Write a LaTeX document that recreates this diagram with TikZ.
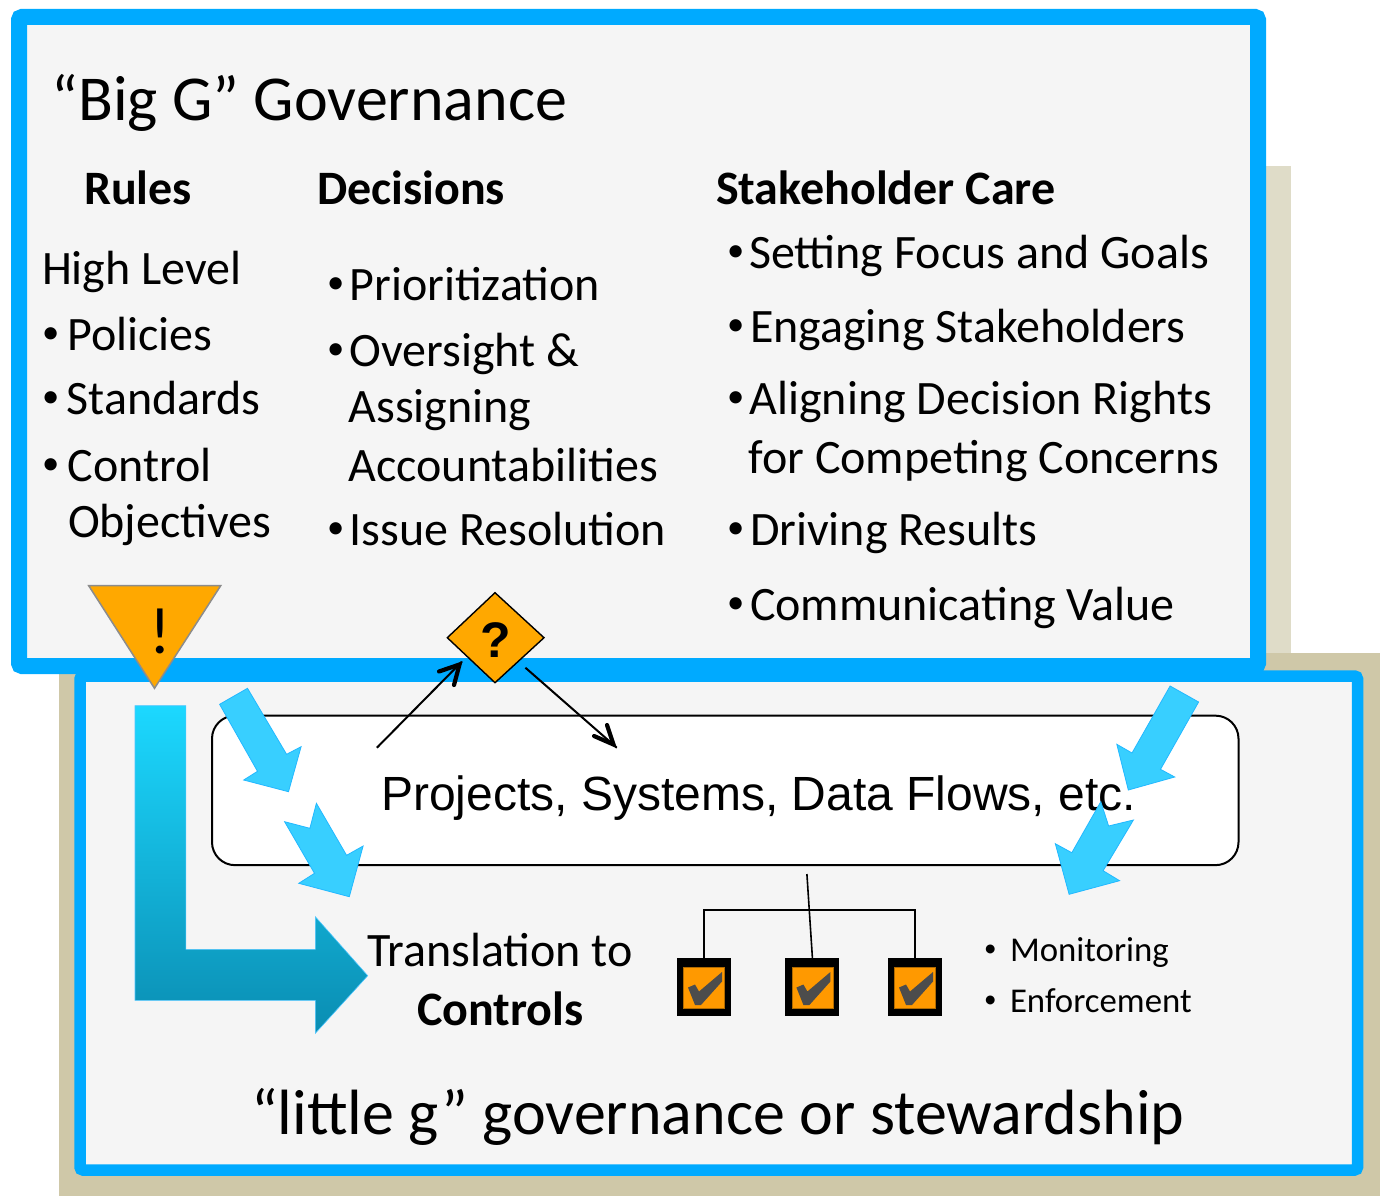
\documentclass[tikz,border=0pt]{standalone}
\usepackage{fontspec}
\setmainfont{Carlito}
\newfontfamily\arialf{Liberation Sans}
\usetikzlibrary{shapes.geometric}
\definecolor{boxblue}{HTML}{00AAFF}
\definecolor{paneln}{HTML}{F5F5F5}
\definecolor{tanlt}{HTML}{DFDCC8}
\definecolor{tandk}{HTML}{CFC8A8}
\definecolor{arrowblue}{HTML}{38CFFF}
\definecolor{arrowedge}{HTML}{22B8FF}
\definecolor{warn}{HTML}{FFA800}
\definecolor{chk}{HTML}{FF9900}
\definecolor{gradtop}{HTML}{1CD8FF}
\definecolor{gradbot}{HTML}{0A8DB2}
\tikzset{
  x=1pt,y=-1pt,
  panel/.style={draw=boxblue,fill=paneln,rounded corners=3pt},
  minib/.style={draw=arrowedge,line width=.8pt,fill=arrowblue,line join=miter},
  txt/.style={anchor=base west,inner sep=0pt,outer sep=0pt,yshift=-1pt,font=\fontsize{48}{52}\selectfont},
  head/.style={txt,font=\fontsize{48}{52}\selectfont\bfseries},
  big/.style={txt,font=\fontsize{64}{68}\selectfont},
  small/.style={txt,font=\fontsize{34.8}{38}\selectfont},
  flow/.style={draw=black,line width=2pt},
  tree/.style={draw=black,line width=1.6pt},
  outerchk/.style={draw=none,fill=black,minimum width=54pt,minimum height=58pt,inner sep=0pt},
}
\newcommand{\bul}{\raisebox{.14em}{\scalebox{.72}{\textbullet}}}
\newcommand{\chkmark}[2]{%
  \fill[chk,draw=chk!70!black,line width=.8pt] (#1-20.5,#2-20) rectangle (#1+20.5,#2+21);
  \fill[black!70] (#1-16,#2+0) -- (#1-9,#2-3) -- (#1-5,#2+4) -- (#1+18,#2-15.5) -- (#1+18,#2-6) -- (#1-3,#2+17.5) -- (#1-9,#2+17.5) -- cycle;}
\begin{document}
\begin{tikzpicture}
\path[use as bounding box,fill=white] (0,0) rectangle (1380,1196);
% shadows
\fill[tanlt] (1200,166) rectangle (1291,660);
\fill[tandk] (59,653) rectangle (1380,1196);
% panels
\draw[panel,line width=11.5pt] (80,676) rectangle (1357.5,1170);
\draw[panel,line width=16pt] (19,17) rectangle (1258,666);
% round box
\node[draw=black,line width=2pt,fill=white,rounded corners=23pt,minimum width=1026.5pt,minimum height=149.5pt,inner sep=0pt] (sys) at (725.25,790.4) {};
\node[txt,font=\fontsize{48}{52}\selectfont\arialf] (systxt) at (381,809) {Projects, Systems, Data Flows, etc.};
% top texts
\node[big] (title) at (51.5,120) {“Big G” Governance};
\node[head] (rules) at (84,203) {Rules};
\node[head] (decs) at (317,203) {Decisions};
\node[head] (care) at (716,203) {Stakeholder Care};
\node[txt] (hl) at (42,283) {High Level};
\node[txt] (b1) at (42,349) {\bul};
\node[txt] (t1) at (67.5,349) {Policies};
\node[txt] (b2) at (42,413) {\bul};
\node[txt] (t2) at (66.5,413) {Standards};
\node[txt] (b3) at (42,480) {\bul};
\node[txt] (t3) at (67.5,480) {Control};
\node[txt] (t3b) at (68,536) {Objectives};
\node[txt] (b4) at (327,299) {\bul};
\node[txt] (t4) at (349.5,299) {Prioritization};
\node[txt] (b5) at (327,365) {\bul};
\node[txt] (t5) at (349.5,365) {Oversight \&};
\node[txt] (t5b) at (348.5,421) {Assigning};
\node[txt] (t5c) at (348.5,480) {Accountabilities};
\node[txt] (b6) at (327,544) {\bul};
\node[txt] (t6) at (349.5,544) {Issue Resolution};
\node[txt] (b7) at (727,267) {\bul};
\node[txt] (t7) at (749,267) {Setting Focus and Goals};
\node[txt] (b8) at (727,341) {\bul};
\node[txt] (t8) at (750,341) {Engaging Stakeholders};
\node[txt] (b9) at (727,413) {\bul};
\node[txt] (t9) at (749.5,413) {Aligning Decision Rights};
\node[txt] (t9b) at (748.5,472) {for Competing Concerns};
\node[txt] (b10) at (727,544) {\bul};
\node[txt] (t10) at (750,544) {Driving Results};
\node[txt] (b11) at (727,619) {\bul};
\node[txt] (t11) at (750,619) {Communicating Value};
% triangle
\draw[fill=warn,draw=black!45,line width=1.5pt,line join=miter] (88.7,585.7) -- (220.7,585.7) -- (154.5,688.3) -- cycle;
\node[txt,anchor=base,font=\fontsize{66}{68}\selectfont] (bang) at (160,652) {!};
% diamond
\draw[fill=warn,draw=black,line width=1.4pt,line join=miter] (447.3,637.7) -- (495,592.7) -- (544,637.7) -- (495,682.7) -- cycle;
\node[txt,anchor=base,font=\fontsize{50}{52}\selectfont\bfseries\arialf] (qm) at (496,656) {?};
\coordinate (upA) at (376.9,747.7);
\coordinate (upB) at (461.8,661.7);
\coordinate (dnA) at (525.4,667.7);
\coordinate (dnB) at (616.8,747.7);
\draw[flow] (upA) -- (upB);
\draw[flow] (dnA) -- (dnB);
\draw[black,line width=4.2pt,line cap=round,line join=miter] (439,671.5) -- (459.5,664.5) -- (454,685);
\draw[black,line width=4.2pt,line cap=round,line join=miter] (594,736) -- (613.5,744.5) -- (607,725);
% L arrow
\shade[top color=gradtop,bottom color=gradbot] (135,705.7) -- (185.9,705.7) -- (185.9,949.3) -- (315.3,949.3) -- (315.3,916.7) -- (367.7,975.7) -- (315.3,1033.3) -- (315.3,1000.3) -- (135,1000.3) -- cycle;
\draw[draw=arrowedge!80,line width=.6pt] (135,705.7) -- (185.9,705.7) -- (185.9,949.3) -- (315.3,949.3) -- (315.3,916.7) -- (367.7,975.7) -- (315.3,1033.3) -- (315.3,1000.3) -- (135,1000.3) -- cycle;
% small arrows
\draw[minib] (247.5,688.3) -- (219.6,704.3) -- (257.5,771.3) -- (243.7,780) -- (288.5,791.7) -- (301.1,746.7) -- (286.6,754.3) -- cycle;
\draw[minib] (316.4,803.3) -- (309.9,828.3) -- (284.6,821.7) -- (314.5,873.3) -- (298.8,883.3) -- (349.3,896.7) -- (363.1,846) -- (346.6,855.3) -- cycle;
\draw[minib] (1170.1,686) -- (1198.6,702) -- (1160.5,769.3) -- (1174.7,777) -- (1128.3,790) -- (1116.8,744.3) -- (1132,753) -- cycle;
\draw[minib] (1100.8,801.7) -- (1108.6,826) -- (1133.4,820) -- (1103.1,870.7) -- (1119.6,880.7) -- (1069.1,894.3) -- (1055.3,843.7) -- (1071.8,852.7) -- cycle;
% controls
\node[outerchk] (c1) at (704,987) {};
\node[outerchk] (c2) at (812.4,987) {};
\node[outerchk] (c3) at (915,987) {};
\chkmark{704}{987.5}
\chkmark{812.4}{987.5}
\chkmark{915}{987.5}
\coordinate (stem) at (806.9,874);
\coordinate (barL) at (704,910);
\coordinate (barR) at (915,910);
\draw[tree] (c1.north) -- (barL) -- (barR) -- (c3.north);
\draw[tree] (stem) -- (c2.north);
\node[txt,anchor=base,font=\fontsize{48}{52}\selectfont] (tr1) at (500,965) {Translation to};
\node[txt,anchor=base,font=\fontsize{48}{52}\selectfont\bfseries] (tr2) at (500.5,1024) {Controls};
\node[small] (b12) at (984,960) {\bul};
\node[small] (t12) at (1010,960) {Monitoring};
\node[small] (b13) at (984,1011) {\bul};
\node[small] (t13) at (1010,1011) {Enforcement};
\node[big] (little) at (251,1133) {“little g” governance or stewardship};
\end{tikzpicture}
\end{document}
